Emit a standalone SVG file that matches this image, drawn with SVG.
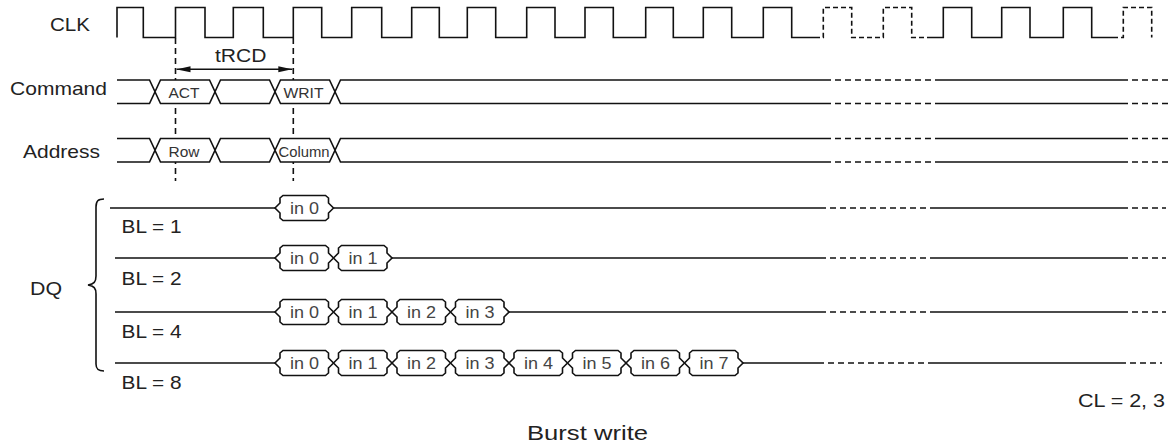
<svg xmlns="http://www.w3.org/2000/svg" width="1170" height="446" viewBox="0 0 1170 446">
<style>
.w{fill:none;stroke:#111;stroke-width:1.6}
.d{fill:none;stroke:#111;stroke-width:1.6;stroke-dasharray:6,4}
.dc{fill:none;stroke:#111;stroke-width:1.6;stroke-dasharray:5,3}
.cell{fill:#fff;stroke:#111;stroke-width:1.6}
.lab{font-family:"Liberation Sans",Arial,sans-serif;font-size:19px;fill:#222}
.sm{font-family:"Liberation Sans",Arial,sans-serif;font-size:14.5px;fill:#333}
.bt{font-family:"Liberation Sans",Arial,sans-serif;font-size:16px;fill:#444}
</style>
<defs>
<path id="bub" d="M0,0 L5,-5 L5,-10 L8,-12.5 H50.5 L53.5,-10 L53.5,-5 L58.5,0 L53.5,5 L53.5,10 L50.5,12.5 H8 L5,10 L5,5 Z"/>
<path id="cel" d="M0,0 L5.5,-11.75 H54.5 L60,0 L54.5,11.75 H5.5 Z"/>
<marker id="ah" viewBox="0 0 14 8" refX="14" refY="4" markerWidth="14" markerHeight="8" markerUnits="userSpaceOnUse" orient="auto-start-reverse">
<path d="M0,1 L14,4 L0,7 Z" fill="#111"/>
</marker>
</defs>
<rect width="1170" height="446" fill="#fff"/>

<g id="connectors">
<path class="d" d="M175.5,38 V181 M293.3,38 V181"/>
<line x1="176.5" y1="69.3" x2="292.3" y2="69.3" stroke="#111" stroke-width="1.6" marker-start="url(#ah)" marker-end="url(#ah)"/>
<text class="lab" x="215" y="61.5" textLength="51.5" lengthAdjust="spacingAndGlyphs">tRCD</text>
</g>

<g id="clk">
<text class="lab" x="50" y="30.5" textLength="40" lengthAdjust="spacingAndGlyphs">CLK</text>
<path class="w" d="M117,37.5 V7.5 H143.3 V37.5 H175.5 V7.5 H205 V37.5 H233.3 V7.5 H263.3 V37.5 H293.3 V7.5 H321.7 V37.5 H351.7 V7.5 H381.7 V37.5 H411.7 V7.5 H439.3 V37.5 H467.3 V7.5 H495.7 V37.5 H526.7 V7.5 H555 V37.5 H585 V7.5 H613.3 V37.5 H645.7 V7.5 H673.3 V37.5 H703.3 V7.5 H731.7 V37.5 H763.3 V7.5 H791.7 V37.5 H815"/>
<path class="dc" d="M815,37.5 H823.3 V7.5 H851.7 V37.5 H883.3 V7.5 H911.7 V37.5 H927"/>
<path class="w" d="M927,37.5 H943.3 V7.5 H971.7 V37.5 H1001.7 V7.5 H1030 V37.5 H1063.3 V7.5 H1091.7 V37.5 H1113"/>
<path class="dc" d="M1113,37.5 H1123.3 V7.5 H1151.7 V37.5"/>
</g>

<g id="command">
<text class="lab" x="10" y="95" textLength="97" lengthAdjust="spacingAndGlyphs">Command</text>
<path class="w" d="M117,80 H149.5 L155,91.75 L149.5,103.5 H117"/>
<use href="#cel" x="155" y="91.75" class="cell"/>
<use href="#cel" x="215" y="91.75" class="cell"/>
<use href="#cel" x="275" y="91.75" class="cell"/>
<path class="w" d="M335,91.75 L340.5,80 H825 M335,91.75 L340.5,103.5 H825 M935,80 H1122 M935,103.5 H1122"/>
<path class="d" d="M825,80 H935 M825,103.5 H935 M1122,80 H1168 M1122,103.5 H1168"/>
<text class="sm" x="168.5" y="98" textLength="31" lengthAdjust="spacingAndGlyphs">ACT</text>
<text class="sm" x="283.5" y="98" textLength="40" lengthAdjust="spacingAndGlyphs">WRIT</text>
</g>

<g id="address">
<text class="lab" x="23" y="158" textLength="77" lengthAdjust="spacingAndGlyphs">Address</text>
<path class="w" d="M117,138.5 H149.5 L155,150.25 L149.5,162 H117"/>
<use href="#cel" x="155" y="150.25" class="cell"/>
<use href="#cel" x="215" y="150.25" class="cell"/>
<use href="#cel" x="275" y="150.25" class="cell"/>
<path class="w" d="M335,150.25 L340.5,138.5 H825 M335,150.25 L340.5,162 H825 M935,138.5 H1122 M935,162 H1122"/>
<path class="d" d="M825,138.5 H935 M825,162 H935 M1122,138.5 H1168 M1122,162 H1168"/>
<text class="sm" x="168.5" y="157" textLength="31" lengthAdjust="spacingAndGlyphs">Row</text>
<text class="sm" x="278.5" y="157" textLength="51" lengthAdjust="spacingAndGlyphs">Column</text>
</g>

<g id="dq">
<text class="lab" x="30" y="295" textLength="32" lengthAdjust="spacingAndGlyphs">DQ</text>
<path class="w" d="M104,199 C98,199 96,201 96,207 L96,276 C96,282 94,284 88,285 C94,286 96,288 96,294 L96,364 C96,369 98,371 104,371"/>
</g>

<g id="dq-bl1">
<path class="w" d="M110,208 H275 M333.5,208 H820 M933,208 H1122"/>
<path class="d" d="M820,208 H933 M1122,208 H1166"/>
<use href="#bub" x="275" y="208" class="cell"/>
<text class="bt" x="290" y="213.5" textLength="29" lengthAdjust="spacingAndGlyphs">in 0</text>
<text class="lab" x="121.5" y="233" textLength="60" lengthAdjust="spacingAndGlyphs">BL = 1</text>
</g>

<g id="dq-bl2">
<path class="w" d="M115,258 H275 M392,258 H820 M933,258 H1122"/>
<path class="d" d="M820,258 H933 M1122,258 H1166"/>
<use href="#bub" x="275" y="258" class="cell"/>
<use href="#bub" x="333.5" y="258" class="cell"/>
<text class="bt" x="290" y="263.5" textLength="29" lengthAdjust="spacingAndGlyphs">in 0</text>
<text class="bt" x="348.5" y="263.5" textLength="29" lengthAdjust="spacingAndGlyphs">in 1</text>
<text class="lab" x="121.5" y="284.5" textLength="60" lengthAdjust="spacingAndGlyphs">BL = 2</text>
</g>

<g id="dq-bl4">
<path class="w" d="M115,312 H275 M509,312 H820 M933,312 H1122"/>
<path class="d" d="M820,312 H933 M1122,312 H1166"/>
<use href="#bub" x="275" y="312" class="cell"/>
<use href="#bub" x="333.5" y="312" class="cell"/>
<use href="#bub" x="392" y="312" class="cell"/>
<use href="#bub" x="450.5" y="312" class="cell"/>
<text class="bt" x="290" y="317.5" textLength="29" lengthAdjust="spacingAndGlyphs">in 0</text>
<text class="bt" x="348.5" y="317.5" textLength="29" lengthAdjust="spacingAndGlyphs">in 1</text>
<text class="bt" x="407" y="317.5" textLength="29" lengthAdjust="spacingAndGlyphs">in 2</text>
<text class="bt" x="465.5" y="317.5" textLength="29" lengthAdjust="spacingAndGlyphs">in 3</text>
<text class="lab" x="121.5" y="338" textLength="60" lengthAdjust="spacingAndGlyphs">BL = 4</text>
</g>

<g id="dq-bl8">
<path class="w" d="M115,363 H275 M743,363 H818 M933,363 H1120"/>
<path class="d" d="M818,363 H933 M1120,363 H1162"/>
<use href="#bub" x="275" y="363" class="cell"/>
<use href="#bub" x="333.5" y="363" class="cell"/>
<use href="#bub" x="392" y="363" class="cell"/>
<use href="#bub" x="450.5" y="363" class="cell"/>
<use href="#bub" x="509" y="363" class="cell"/>
<use href="#bub" x="567.5" y="363" class="cell"/>
<use href="#bub" x="626" y="363" class="cell"/>
<use href="#bub" x="684.5" y="363" class="cell"/>
<text class="bt" x="290" y="368.5" textLength="29" lengthAdjust="spacingAndGlyphs">in 0</text>
<text class="bt" x="348.5" y="368.5" textLength="29" lengthAdjust="spacingAndGlyphs">in 1</text>
<text class="bt" x="407" y="368.5" textLength="29" lengthAdjust="spacingAndGlyphs">in 2</text>
<text class="bt" x="465.5" y="368.5" textLength="29" lengthAdjust="spacingAndGlyphs">in 3</text>
<text class="bt" x="524" y="368.5" textLength="29" lengthAdjust="spacingAndGlyphs">in 4</text>
<text class="bt" x="582.5" y="368.5" textLength="29" lengthAdjust="spacingAndGlyphs">in 5</text>
<text class="bt" x="641" y="368.5" textLength="29" lengthAdjust="spacingAndGlyphs">in 6</text>
<text class="bt" x="699.5" y="368.5" textLength="29" lengthAdjust="spacingAndGlyphs">in 7</text>
<text class="lab" x="121.5" y="389" textLength="60" lengthAdjust="spacingAndGlyphs">BL = 8</text>
</g>

<g id="notes">
<text class="lab" x="1078" y="407" textLength="87" lengthAdjust="spacingAndGlyphs">CL = 2, 3</text>
<text class="lab" x="527" y="440" style="font-size:21px" textLength="121" lengthAdjust="spacingAndGlyphs">Burst write</text>
</g>
</svg>
